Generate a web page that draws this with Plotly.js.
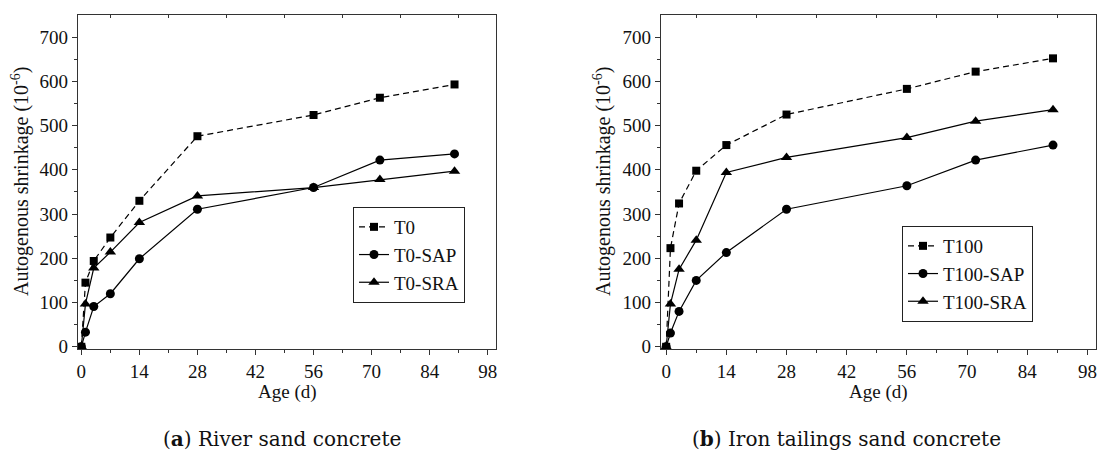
<!DOCTYPE html>
<html>
<head>
<meta charset="utf-8">
<script src="https://cdn.plot.ly/plotly-3.0.1.min.js"></script>
<style>html,body{margin:0;padding:0;background:#fff;}#chart{width:1102px;height:465px;}</style>
</head>
<body>
<div id="chart"></div>
<script>
// Data
const ages = [0, 1, 3, 7, 14, 28, 56, 72, 90];
const T0 = [0, 145, 194, 247, 330, 476, 524, 563, 593];
const T0_SAP = [0, 33, 91, 120, 199, 311, 360, 422, 436];
const T0_SRA = [0, 97, 178, 214, 281, 341, 360, 378, 397];
const T100 = [0, 223, 324, 398, 456, 525, 583, 622, 652];
const T100_SAP = [0, 31, 80, 150, 213, 311, 364, 422, 456];
const T100_SRA = [0, 97, 175, 241, 394, 428, 473, 510, 536];
const xTicks = [0, 14, 28, 42, 56, 70, 84, 98];
const xMinor = [7, 21, 35, 49, 63, 77, 91];
const yTicks = [0, 100, 200, 300, 400, 500, 600, 700];
const yMinor = [50, 150, 250, 350, 450, 550, 650];
const namesA = ['T0', 'T0-SAP', 'T0-SRA'];
const namesB = ['T100', 'T100-SAP', 'T100-SRA'];
const captionA = '(<b>a</b>) River sand concrete';
const captionB = '(<b>b</b>) Iron tailings sand concrete';
const xTitle = 'Age (d)';
const yTitle = 'Autogenous shrinkage (10<sup>-6</sup>)';

const FONT = 'Liberation Serif';
const styles = [
  {dash: '6px,4px', symbol: 'square', size: 8},
  {dash: 'solid', symbol: 'circle', size: 9},
  {dash: 'solid', symbol: 'triangle-up', size: 10}
];
function mk(y, name, i, xa, ya, legend) {
  return {
    x: ages, y: y, name: name, type: 'scatter', mode: 'lines+markers',
    xaxis: xa, yaxis: ya, legend: legend,
    line: {color: '#000', width: 1.2, dash: styles[i].dash},
    marker: {color: '#000', symbol: styles[i].symbol, size: styles[i].size}
  };
}
const traces = [
  mk(T0, namesA[0], 0, 'x', 'y', 'legend'),
  mk(T0_SAP, namesA[1], 1, 'x', 'y', 'legend'),
  mk(T0_SRA, namesA[2], 2, 'x', 'y', 'legend'),
  mk(T100, namesB[0], 0, 'x2', 'y2', 'legend2'),
  mk(T100_SAP, namesB[1], 1, 'x2', 'y2', 'legend2'),
  mk(T100_SRA, namesB[2], 2, 'x2', 'y2', 'legend2'),
  // empty helper traces so the top tick axes are drawn
  {x: [], y: [], xaxis: 'x3', yaxis: 'y', type: 'scatter', showlegend: false, hoverinfo: 'skip'},
  {x: [], y: [], xaxis: 'x4', yaxis: 'y2', type: 'scatter', showlegend: false, hoverinfo: 'skip'}
];

const W = 1102, H = 465;
const yDom = [(H - 349) / H, (H - 15) / H];
function xax(dom, anchor, lo) {
  return {
    domain: dom, anchor: anchor, range: [lo, 100],
    tickvals: xTicks, ticks: 'outside', ticklen: 5, tickwidth: 1, tickcolor: '#333',
    showline: true, linecolor: '#333', linewidth: 1.2, mirror: true,
    showgrid: false, zeroline: false,
    tickfont: {family: FONT, size: 19, color: '#111'},
    minor: {tickvals: xMinor, ticks: 'outside', ticklen: 3, tickcolor: '#333', showgrid: false}
  };
}
function topax(over, anchor, lo) {
  return {
    overlaying: over, anchor: anchor, side: 'top', range: [lo, 100],
    tickvals: xMinor, ticks: 'inside', ticklen: 3, tickwidth: 1, tickcolor: '#333',
    showticklabels: false, showline: false, showgrid: false, zeroline: false
  };
}
function yax(anchor) {
  return {
    domain: yDom, anchor: anchor, range: [-5, 750],
    tickvals: yTicks, ticks: 'outside', ticklen: 5, tickwidth: 1, tickcolor: '#333',
    showline: true, linecolor: '#333', linewidth: 1.2, mirror: true,
    showgrid: false, zeroline: false,
    tickfont: {family: FONT, size: 19, color: '#111'},
    minor: {tickvals: yMinor, ticks: 'outside', ticklen: 3, tickcolor: '#333', showgrid: false}
  };
}
const domA = [78 / W, 496 / W];
const domB = [661 / W, 1096 / W];
const legendStyle = (x, y) => ({
  x: x, y: y, xanchor: 'left', yanchor: 'top',
  bordercolor: '#222', borderwidth: 1, bgcolor: 'rgba(255,255,255,0)',
  font: {family: FONT, size: 19, color: '#111'}, itemwidth: 30, tracegroupgap: 0
});
function ann(text, px, py, opts) {
  return Object.assign({
    text: text, xref: 'paper', yref: 'paper', x: px / W, y: (H - py) / H,
    xanchor: 'center', yanchor: 'middle', showarrow: false,
    font: {family: FONT, size: 19, color: '#111'}
  }, opts || {});
}
const capFont = {family: 'DejaVu Serif', size: 20, color: '#111'};
const titleFont = {family: FONT, size: 20, color: '#111'};
const layout = {
  width: W, height: H,
  margin: {l: 0, r: 0, t: 0, b: 0},
  paper_bgcolor: '#fff', plot_bgcolor: '#fff',
  showlegend: true,
  xaxis: xax(domA, 'y', -0.8),
  yaxis: yax('x'),
  xaxis2: xax(domB, 'y2', -1.2),
  yaxis2: yax('x2'),
  xaxis3: topax('x', 'y', -0.8),
  xaxis4: topax('x2', 'y2', -1.2),
  legend: legendStyle(353 / W, (H - 207) / H),
  legend2: legendStyle(902 / W, (H - 226) / H),
  annotations: [
    ann(xTitle, (78 + 496) / 2, 392),
    ann(xTitle, (661 + 1096) / 2, 392),
    ann(yTitle, 21, 182, {textangle: -90, font: titleFont}),
    ann(yTitle, 603, 182, {textangle: -90, font: titleFont}),
    ann(captionA, 282, 439, {font: capFont}),
    ann(captionB, 846, 439, {font: capFont})
  ]
};
Plotly.newPlot('chart', traces, layout, {displayModeBar: false, staticPlot: true});
</script>
</body>
</html>
